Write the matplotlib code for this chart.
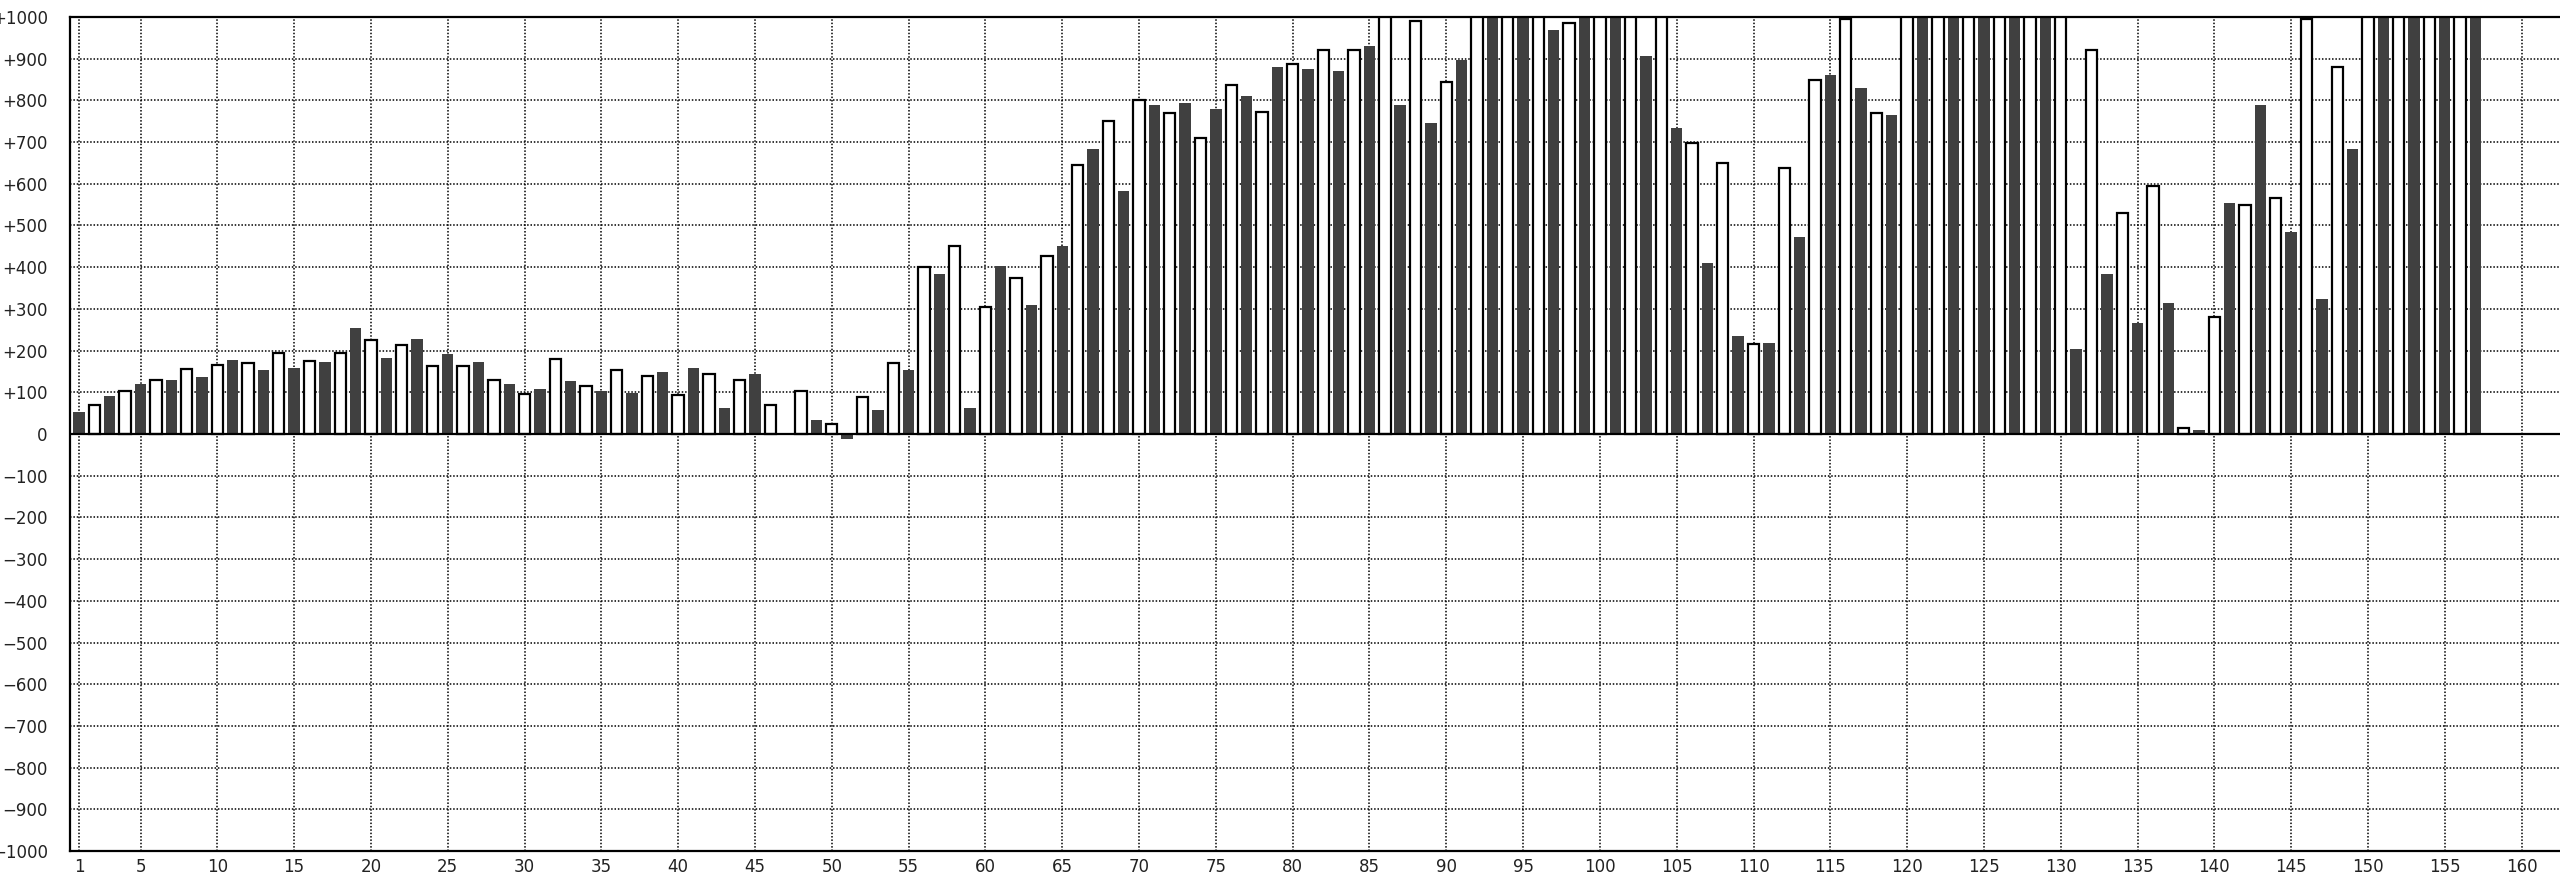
import numpy as np
import matplotlib
matplotlib.use('Agg')
import matplotlib.pyplot as plt
from matplotlib.ticker import FuncFormatter

# Werte pro Balken (1..157), >1000 wird oben abgeschnitten
werte = [53, 70, 90, 102, 121, 130, 130, 157, 136, 166,
         177, 171, 154, 195, 159, 176, 173, 195, 255, 226,
         182, 213, 228, 162, 191, 162, 173, 130, 121, 97,
         109, 180, 126, 116, 104, 153, 98, 139, 149, 94,
         158, 143, 62, 130, 144, 70, 0, 102, 34, 23,
         -12, 88, 58, 171, 154, 401, 384, 452, 62, 304,
         402, 373, 310, 428, 452, 644, 683, 750, 582, 801,
         788, 769, 794, 709, 779, 838, 811, 773, 881, 888,
         876, 921, 871, 920, 930, 1100, 788, 990, 747, 843,
         898, 1100, 1100, 1100, 1100, 1100, 968, 985, 1100, 1100,
         1100, 1100, 907, 1100, 734, 699, 411, 649, 236, 217,
         218, 639, 472, 848, 862, 995, 830, 769, 765, 1100,
         1100, 1100, 1100, 1100, 1100, 1100, 1100, 1100, 1100, 1100,
         205, 920, 384, 529, 265, 594, 314, 14, 10, 281,
         554, 548, 788, 566, 484, 995, 324, 879, 683, 1100,
         1100, 1100, 1100, 1100, 1100, 1100, 1100]

xticks = [1] + list(range(5, 165, 5))
yticks = list(range(-1000, 1001, 100))

werte = np.array(werte)
x = np.arange(1, len(werte) + 1)
ungerade = x % 2 == 1

fig = plt.figure(figsize=(25.6, 8.73), dpi=100)
ax = fig.add_axes([70/2560, 22/873, 1 - 70/2560, 834/873])

ax.bar(x[ungerade], werte[ungerade], width=0.74, color='#404040', linewidth=0, zorder=2)
ax.bar(x[~ungerade], werte[~ungerade], width=0.74, color='white', edgecolor='black', linewidth=1.6, zorder=2)
ax.axhline(0, color='black', linewidth=1.6, zorder=3)

ax.set_xlim(0.41, 162.5)
ax.set_ylim(-1000, 1000)
ax.set_xticks(xticks)
ax.set_yticks(yticks)


def fmt(v, pos):
    v = int(round(v))
    if v > 0:
        return '+%d' % v
    if v < 0:
        return '\u2212%d' % -v
    return '0'


ax.yaxis.set_major_formatter(FuncFormatter(fmt))
ax.grid(True, color='black', linestyle=(0, (1, 1.2)), linewidth=1.1, zorder=0)
ax.set_axisbelow(True)
ax.tick_params(axis='y', length=0, pad=16, labelsize=12, colors='#222222')
ax.tick_params(axis='x', length=0, pad=5, labelsize=12, colors='#222222')
for s in ['left', 'top', 'bottom']:
    ax.spines[s].set_linewidth(1.6)
ax.spines['right'].set_visible(False)

plt.savefig('out.png', dpi=100)
